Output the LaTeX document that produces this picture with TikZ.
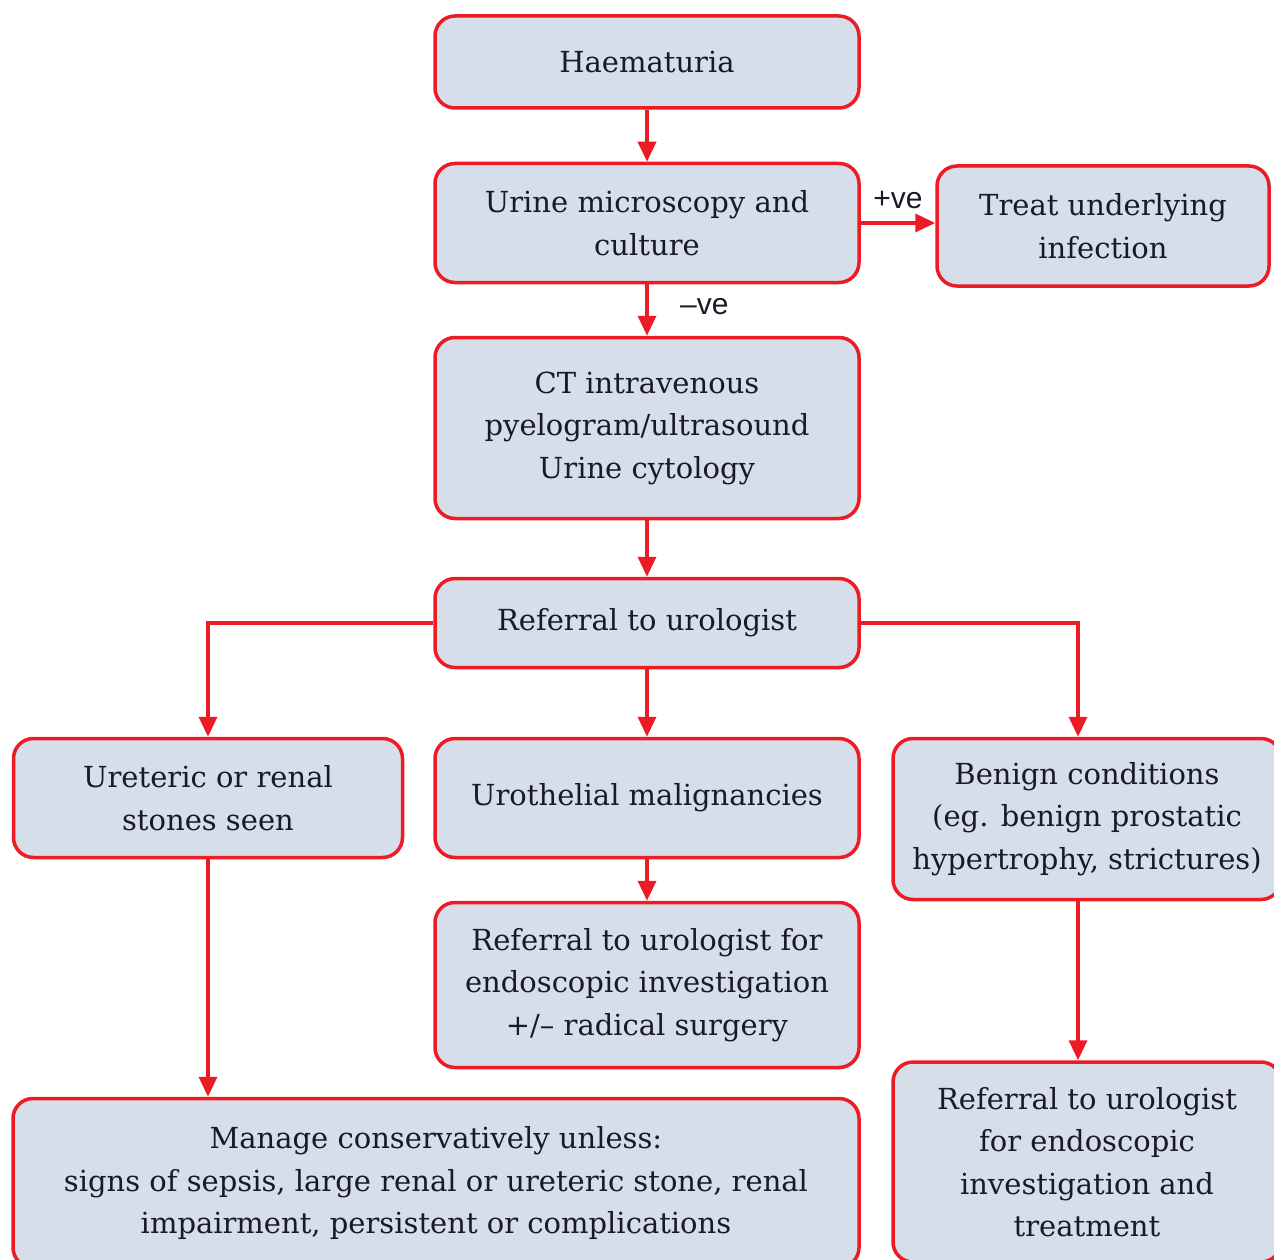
\documentclass[tikz,border=0pt]{standalone}
\usepackage{fontspec}
\setmainfont{DejaVu Serif}
\newfontfamily\labelfont{Liberation Sans}
\usetikzlibrary{arrows.meta}

\definecolor{boxred}{RGB}{237,28,36}
\definecolor{boxfill}{RGB}{214,223,233}
\definecolor{boxtext}{RGB}{25,25,40}

\tikzset{
    stepbox/.style = {shape = rectangle, draw = boxred, fill = boxfill, line width = 3.5pt,
        rounded corners = 20pt, align = center, text = boxtext,
        font = \fontsize{29}{42.5}\selectfont, inner sep = 0pt},
    arr/.style = {draw = boxred, line width = 3.5pt, -{Triangle[length = 20pt, width = 18pt]}},
    sign/.style = {font = \labelfont\fontsize{30}{32}\selectfont, text = boxtext}
}

\begin{document}
\begin{tikzpicture}[x = 1pt, y = -1pt]
    \useasboundingbox (0,0) rectangle (1274,1260);
    % boxes
    \node[stepbox, minimum width = 424pt, minimum height = 92pt] (haem) at (647,62) {Haematuria};
    \node[stepbox, minimum width = 424pt, minimum height = 119pt] (urine) at (647,223) {Urine microscopy and\\culture};
    \node[stepbox, minimum width = 332pt, minimum height = 120pt] (treat) at (1103,226) {Treat underlying\\infection};
    \node[stepbox, minimum width = 424pt, minimum height = 181pt] (ct) at (647,428) {CT intravenous\\pyelogram/ultrasound\\Urine cytology};
    \node[stepbox, minimum width = 424pt, minimum height = 89pt] (refer) at (647,623) {Referral to urologist};
    \node[stepbox, minimum width = 389pt, minimum height = 119pt] (stones) at (208,798) {Ureteric or renal\\stones seen};
    \node[stepbox, minimum width = 424pt, minimum height = 119pt] (uro) at (647,798) {Urothelial malignancies};
    \node[stepbox, minimum width = 388pt, minimum height = 161pt] (benign) at (1087,819) {Benign conditions\\(eg. benign prostatic\\hypertrophy, strictures)};
    \node[stepbox, minimum width = 424pt, minimum height = 165pt] (endo) at (647,985) {Referral to urologist for\\endoscopic investigation\\+/– radical surgery};
    \node[stepbox, minimum width = 846pt, minimum height = 169pt] (manage) at (436,1183) {Manage conservatively unless:\\signs of sepsis, large renal or ureteric stone, renal\\impairment, persistent or complications};
    \node[stepbox, minimum width = 388pt, minimum height = 200pt] (final) at (1087,1162) {Referral to urologist\\for endoscopic\\investigation and\\treatment};

    % connectors
    \draw[arr] (haem) -- (urine);
    \draw[arr] (urine.east) -- node[sign, above = 9pt] {+ve} (urine.east -| treat.west);
    \draw[arr] (urine) -- node[sign, right = 28pt, yshift = 3pt] {–ve} (ct);
    \draw[arr] (ct) -- (refer);
    \draw[arr] (refer.west) -| (stones);
    \draw[arr] (refer) -- (uro);
    \draw[arr] (refer.east) -| ([xshift = -9pt]benign.north);
    \draw[arr] (stones) -- (stones |- manage.north);
    \draw[arr] (uro) -- (endo);
    \draw[arr] ([xshift = -9pt]benign.south) -- ([xshift = -9pt]final.north);
\end{tikzpicture}
\end{document}
